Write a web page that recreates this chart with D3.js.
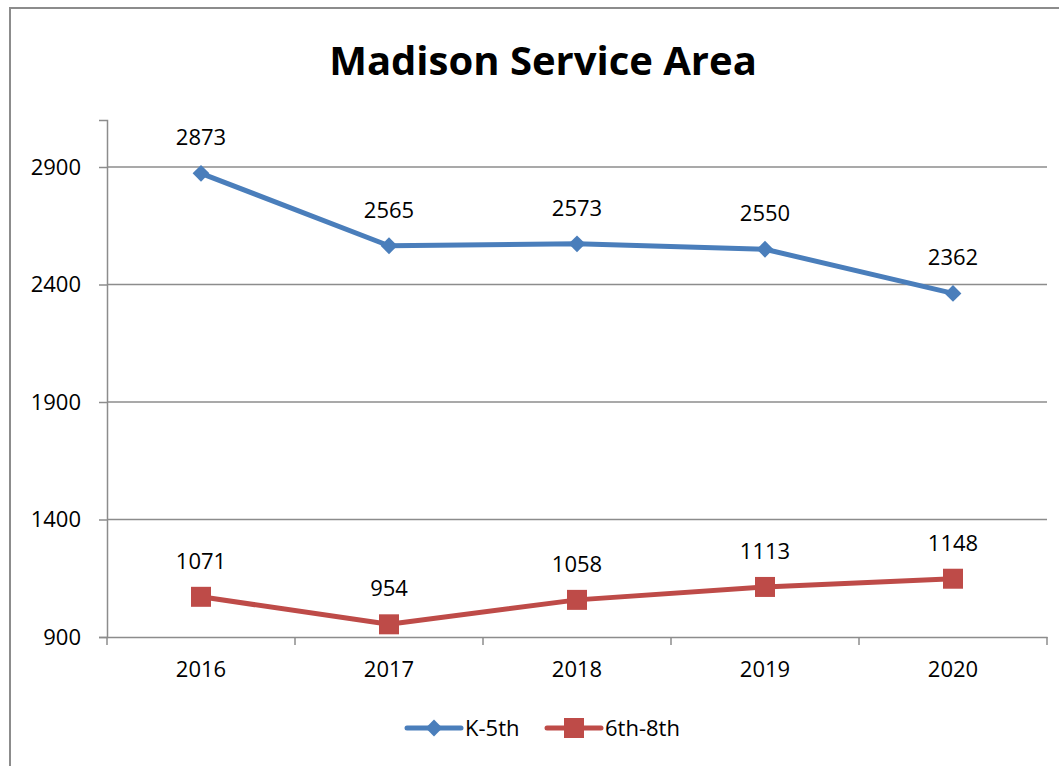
<!DOCTYPE html>
<html>
<head>
<meta charset="utf-8">
<script src="https://cdn.jsdelivr.net/npm/d3@7"></script>
<style>
  body { margin: 0; background: #fff; }
  text { font-family: "Open Sans", "Noto Sans", sans-serif; fill: #000; }
</style>
</head>
<body>
<script>
// chart size
const width = 1059;
const height = 766;

// data
const years = ["2016", "2017", "2018", "2019", "2020"];
const k5 = [2873, 2565, 2573, 2550, 2362];
const g68 = [1071, 954, 1058, 1113, 1148];
const yTicks = [900, 1400, 1900, 2400, 2900];
const seriesNames = ["K-5th", "6th-8th"];
const colors = ["#4A7EBB", "#BE4B48"];

const svg = d3.select("body").append("svg")
  .attr("width", width)
  .attr("height", height);

// outer chart border (cut off on right and bottom)
svg.append("rect")
  .attr("x", 10).attr("y", 8)
  .attr("width", 1080).attr("height", 800)
  .attr("fill", "none")
  .attr("stroke", "#8c8c8c")
  .attr("stroke-width", 2);

svg.append("text")
  .attr("x", 543).attr("y", 75)
  .attr("text-anchor", "middle")
  .style("font-size", "40px")
  .style("font-weight", "bold")
  .text("Madison Service Area");

// scales
const x = d3.scaleBand().domain(years).range([107, 1047]);
const y = d3.scaleLinear().domain([900, 3100]).range([637, 120]);

// gridlines
svg.append("g")
  .selectAll("line")
  .data(yTicks.slice(1))
  .enter()
  .append("line")
  .attr("x1", 107).attr("x2", 1047)
  .attr("y1", d => y(d)).attr("y2", d => y(d))
  .attr("stroke", "#8c8c8c")
  .attr("stroke-width", 1.5);

// y axis
const yAxis = svg.append("g")
  .attr("transform", "translate(107,0)")
  .call(d3.axisLeft(y).tickValues(yTicks).tickFormat(d3.format("d")).tickSize(8).tickPadding(18));
yAxis.selectAll("text").style("font-size", "22px");

// x axis, ticks at band edges
const xAxis = svg.append("g")
  .attr("transform", "translate(0,637)")
  .call(d3.axisBottom(x).tickSize(0).tickPadding(24));
xAxis.selectAll("text").style("font-size", "22px");
const edges = years.map(d => x(d)).concat([x.range()[1]]);
xAxis.selectAll(".edge")
  .data(edges)
  .enter()
  .append("line")
  .attr("class", "edge")
  .attr("x1", d => d).attr("x2", d => d)
  .attr("y1", 0).attr("y2", 8);

[yAxis, xAxis].forEach(a => {
  a.select(".domain").attr("stroke", "#8c8c8c").attr("stroke-width", 1.5);
  a.selectAll("line").attr("stroke", "#8c8c8c").attr("stroke-width", 1.5);
});

const cx = d => x(d) + x.bandwidth() / 2;

const line = d3.line()
  .x((d, i) => cx(years[i]))
  .y(d => y(d));

function drawSeries(values, color, shape) {
  const g = svg.append("g");
  g.append("path")
    .datum(values)
    .attr("d", line)
    .attr("fill", "none")
    .attr("stroke", color)
    .attr("stroke-width", 5)
    .attr("stroke-linejoin", "round");

  g.selectAll(".mark")
    .data(values)
    .enter()
    .append("path")
    .attr("class", "mark")
    .attr("transform", (d, i) => `translate(${cx(years[i])},${y(d)})`)
    .attr("d", shape)
    .attr("fill", color);

  g.selectAll(".lbl")
    .data(values)
    .enter()
    .append("text")
    .attr("class", "lbl")
    .attr("x", (d, i) => cx(years[i]))
    .attr("y", d => y(d) - 28)
    .attr("text-anchor", "middle")
    .style("font-size", "22px")
    .text(d => d);
}

const diamond = d3.symbol().type(d3.symbolDiamond2).size(180)();
const square = "M-10,-10H10V10H-10Z";

drawSeries(k5, colors[0], diamond);
drawSeries(g68, colors[1], square);

// legend
const legend = svg.append("g").attr("transform", "translate(0,728)");
const legendItems = [
  { name: seriesNames[0], color: colors[0], shape: diamond, x0: 407 },
  { name: seriesNames[1], color: colors[1], shape: square, x0: 547 },
];
legendItems.forEach(it => {
  legend.append("line")
    .attr("x1", it.x0).attr("x2", it.x0 + 54)
    .attr("y1", 0).attr("y2", 0)
    .attr("stroke", it.color)
    .attr("stroke-width", 5)
    .attr("stroke-linecap", "round");
  legend.append("path")
    .attr("transform", `translate(${it.x0 + 27},0)`)
    .attr("d", it.shape)
    .attr("fill", it.color);
  legend.append("text")
    .attr("x", it.x0 + 58).attr("y", 8)
    .style("font-size", "22px")
    .text(it.name);
});
</script>
</body>
</html>
